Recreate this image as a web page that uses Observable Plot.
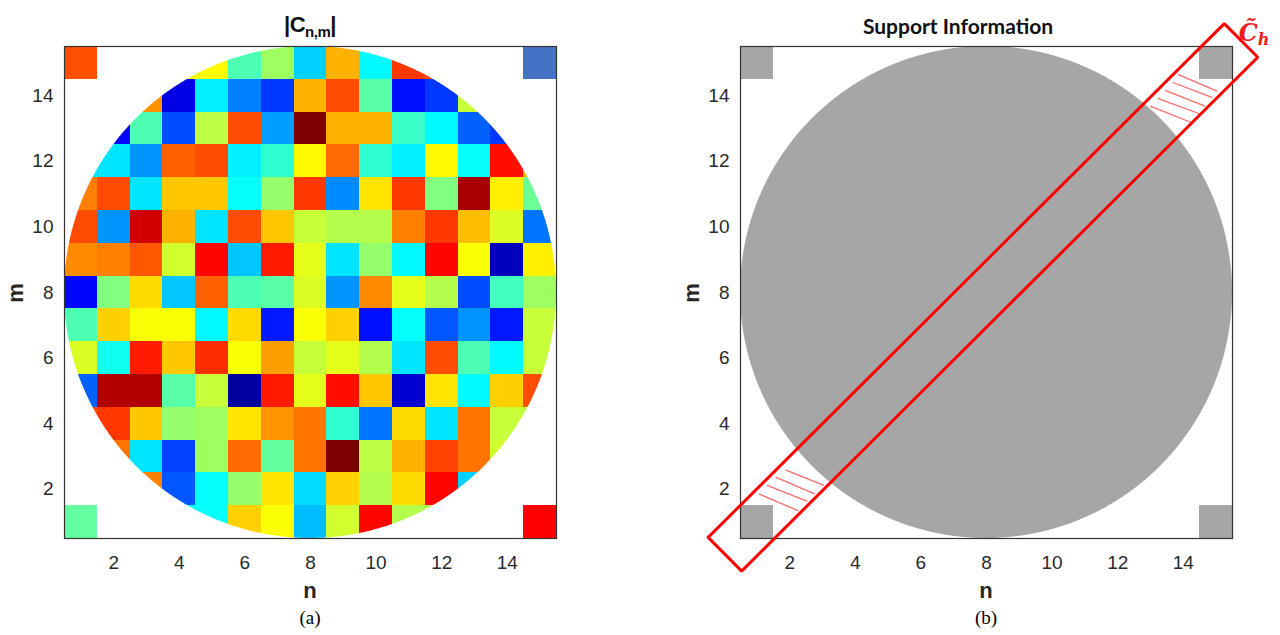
<!DOCTYPE html>
<html>
<head>
<meta charset="utf-8">
<script src="https://cdn.jsdelivr.net/npm/d3@7"></script>
<script src="https://cdn.jsdelivr.net/npm/@observablehq/plot@0.6"></script>
<style>
  html, body { margin: 0; padding: 0; background: #fff; }
  #wrap { position: relative; width: 1280px; height: 635px; overflow: hidden; background: #fff; }
  .plot { position: absolute; top: 0; }
  .plot svg text { font-family: "Liberation Sans", Arial, sans-serif !important; font-size: 19px !important; fill: #2a2a2a; }
  .lbl { position: absolute; transform: translate(-50%, -50%); white-space: nowrap; color: #111; }
  .axlab { font-family: "Liberation Sans", Arial, sans-serif; font-weight: bold; font-size: 22px; color: #262626; }
  .cap { font-family: "Liberation Serif", "Times New Roman", serif; font-size: 19px; color: #000; }
</style>
</head>
<body>
<div id="wrap">
  <div id="left" class="plot" style="left:0px"></div>
  <div id="right" class="plot" style="left:640px"></div>
  <div class="lbl" style="left:310px; top:26px; font-family:'Liberation Sans', Arial, sans-serif; font-weight:bold; font-size:22px; letter-spacing:-0.5px;">|C<sub style="font-size:15px; vertical-align:-5px;">n,m</sub>|</div>
  <div class="lbl" style="left:958px; top:25px; font-family:Lato, 'Open Sans', sans-serif; font-weight:bold; font-size:21px;">Support Information</div>
  <div class="lbl" style="left:1254px; top:33px; font-family:'DejaVu Serif', 'Liberation Serif', serif; font-style:italic; font-weight:bold; font-size:24px; color:#ee1c1c;">C&#771;<sub style="font-size:16px; vertical-align:-4px;">h</sub></div>
  <div class="lbl axlab" style="left:310px; top:591px;">n</div>
  <div class="lbl axlab" style="left:986px; top:591px;">n</div>
  <div class="lbl axlab" style="left:16px; top:293px; transform:translate(-50%,-50%) rotate(-90deg);">m</div>
  <div class="lbl axlab" style="left:692px; top:293px; transform:translate(-50%,-50%) rotate(-90deg);">m</div>
  <div class="lbl cap" style="left:310px; top:618px;">(a)</div>
  <div class="lbl cap" style="left:986px; top:618px;">(b)</div>
</div>
<script>
// ---------- data ----------
const axisTicks = [2, 4, 6, 8, 10, 12, 14];
const gridDomain = [0.5, 15.5];

// jet colormap stops
const jetStops = [0, 0.125, 0.375, 0.625, 0.875, 1];
const jetColors = ["#00007f", "#0000ff", "#00ffff", "#ffff00", "#ff0000", "#7f0000"];

// |C_n,m| magnitudes (rows m = 15 .. 1, columns n = 1 .. 15); null = outside the support
const magnitudeRows = [
  [null, null, null, 0.62, 0.63, 0.45, 0.53, 0.33, 0.70, 0.37, 0.82, 0.80, null, null, null],
  [null, null, 0.73, 0.10, 0.36, 0.25, 0.18, 0.70, 0.80, 0.46, 0.14, 0.18, 0.57, null, null],
  [null, 0.13, 0.45, 0.20, 0.56, 0.80, 0.28, 1.00, 0.70, 0.70, 0.43, 0.37, 0.22, 0.18, null],
  [0.35, 0.35, 0.27, 0.78, 0.80, 0.36, 0.42, 0.63, 0.77, 0.42, 0.36, 0.63, 0.38, 0.86, 0.70],
  [0.75, 0.80, 0.35, 0.68, 0.68, 0.38, 0.52, 0.82, 0.26, 0.65, 0.82, 0.50, 0.96, 0.64, 0.48],
  [0.80, 0.27, 0.92, 0.70, 0.35, 0.80, 0.68, 0.57, 0.55, 0.55, 0.75, 0.82, 0.69, 0.59, 0.24],
  [0.74, 0.75, 0.79, 0.58, 0.87, 0.32, 0.85, 0.60, 0.35, 0.52, 0.37, 0.87, 0.62, 0.06, 0.64],
  [0.13, 0.50, 0.66, 0.32, 0.78, 0.45, 0.46, 0.59, 0.27, 0.74, 0.60, 0.55, 0.20, 0.44, 0.53],
  [0.45, 0.67, 0.62, 0.62, 0.37, 0.66, 0.15, 0.62, 0.67, 0.14, 0.38, 0.21, 0.27, 0.15, 0.57],
  [0.59, 0.39, 0.85, 0.68, 0.83, 0.62, 0.72, 0.57, 0.60, 0.55, 0.35, 0.80, 0.45, 0.37, 0.57],
  [0.22, 0.95, 0.95, 0.46, 0.57, 0.03, 0.85, 0.60, 0.86, 0.68, 0.08, 0.65, 0.37, 0.67, 0.80],
  [0.80, 0.82, 0.68, 0.52, 0.53, 0.65, 0.73, 0.76, 0.42, 0.24, 0.66, 0.35, 0.76, 0.57, 0.55],
  [null, 0.76, 0.35, 0.19, 0.53, 0.77, 0.47, 0.76, 1.00, 0.56, 0.70, 0.81, 0.76, 0.58, null],
  [null, null, 0.75, 0.21, 0.38, 0.52, 0.65, 0.34, 0.67, 0.55, 0.66, 0.87, 0.33, null, null],
  [null, null, null, 0.38, 0.38, 0.67, 0.62, 0.31, 0.58, 0.87, 0.55, 0.55, null, null, null]
];

// corner cells (n, m, colour)
const cornerN = [1, 15, 1, 15];
const cornerM = [15, 15, 1, 1];
const cornerColorsA = ["#ff5000", "#4472c4", "#66ffa0", "#ff0000"];
const cornerColorB = "#a6a6a6";

// support disk
const diskCenter = [8, 8];
const diskRadius = 7.5;
const greyFill = "#a6a6a6";

// band C~_h: centre line end points and half width (data units)
const bandStart = [0.025, 0.02];
const bandEnd = [15.76, 15.685];
const bandHalfWidth = 0.724;

// hatch segments inside the band, outside the disk [x1, y1, x2, y2]
const hatchTopRight = [
  [13.83, 14.65, 15.03, 14.14],
  [13.67, 14.41, 14.89, 13.94],
  [13.45, 14.16, 14.66, 13.68],
  [13.22, 13.92, 14.49, 13.45],
  [12.99, 13.68, 14.23, 13.19]
];
const hatchBottomLeft = [
  [1.87, 2.59, 3.04, 2.12],
  [1.57, 2.37, 2.76, 1.86],
  [1.31, 2.12, 2.54, 1.63],
  [1.06, 1.86, 2.25, 1.35]
];

// ---------- derived tables ----------
const cells = [];
magnitudeRows.forEach((row, i) => row.forEach((v, j) => {
  if (v != null) cells.push({n: j + 1, m: magnitudeRows.length - i, v});
}));
const corners = cornerN.map((n, i) => ({n, m: cornerM[i], colorA: cornerColorsA[i]}));

const circleSamples = d3.range(0, 721).map(k => {
  const t = Math.PI - Math.PI * k / 720;
  const x = diskCenter[0] + diskRadius * Math.cos(t);
  const h = diskRadius * Math.sin(t);
  return {x, lo: diskCenter[1] - h, hi: diskCenter[1] + h};
});

const len = Math.hypot(bandEnd[0] - bandStart[0], bandEnd[1] - bandStart[1]);
const dir = [(bandEnd[0] - bandStart[0]) / len, (bandEnd[1] - bandStart[1]) / len];
const perp = [-dir[1], dir[0]];
const bandPoly = [
  [bandStart[0] + perp[0] * bandHalfWidth, bandStart[1] + perp[1] * bandHalfWidth],
  [bandEnd[0] + perp[0] * bandHalfWidth, bandEnd[1] + perp[1] * bandHalfWidth],
  [bandEnd[0] - perp[0] * bandHalfWidth, bandEnd[1] - perp[1] * bandHalfWidth],
  [bandStart[0] - perp[0] * bandHalfWidth, bandStart[1] - perp[1] * bandHalfWidth]
];
bandPoly.push(bandPoly[0]);
const hatches = hatchTopRight.concat(hatchBottomLeft);

const cellX1 = d => d.n - 0.5, cellX2 = d => d.n + 0.5;
const cellY1 = d => d.m - 0.5, cellY2 = d => d.m + 0.5;

const commonStyle = {
  fontFamily: "Liberation Sans, Arial, sans-serif",
  fontSize: "19px",
  color: "#2a2a2a",
  background: "transparent",
  overflow: "visible"
};

function axes() {
  return [
    Plot.axisX(axisTicks, {tickSize: 0, tickPadding: 17, label: null, fontSize: 19}),
    Plot.axisY(axisTicks, {tickSize: 0, tickPadding: 11, label: null, fontSize: 19})
  ];
}

// ---------- left panel ----------
const left = Plot.plot({
  width: 640, height: 600,
  marginLeft: 64, marginRight: 84, marginTop: 46, marginBottom: 62,
  x: {domain: gridDomain},
  y: {domain: gridDomain},
  color: {type: "linear", domain: jetStops, range: jetColors, interpolate: "rgb"},
  style: commonStyle,
  marks: [
    Plot.rect(cells, {x1: cellX1, x2: cellX2, y1: cellY1, y2: cellY2, fill: "v", shapeRendering: "crispEdges"}),
    Plot.areaY(circleSamples, {x: "x", y1: "hi", y2: gridDomain[1], fill: "white"}),
    Plot.areaY(circleSamples, {x: "x", y1: gridDomain[0], y2: "lo", fill: "white"}),
    ...corners.map(c => Plot.rect([c], {x1: cellX1, x2: cellX2, y1: cellY1, y2: cellY2, fill: c.colorA, shapeRendering: "crispEdges"})),
    Plot.frame({stroke: "#333", strokeWidth: 1.2}),
    ...axes()
  ]
});
document.getElementById("left").appendChild(left);

// ---------- right panel ----------
const right = Plot.plot({
  width: 640, height: 600,
  marginLeft: 100, marginRight: 48, marginTop: 46, marginBottom: 62,
  x: {domain: gridDomain},
  y: {domain: gridDomain},
  style: commonStyle,
  marks: [
    Plot.areaY(circleSamples, {x: "x", y1: "lo", y2: "hi", fill: greyFill}),
    Plot.rect(corners, {x1: cellX1, x2: cellX2, y1: cellY1, y2: cellY2, fill: cornerColorB, shapeRendering: "crispEdges"}),
    Plot.frame({stroke: "#333", strokeWidth: 1.2}),
    Plot.link(hatches, {x1: d => d[0], y1: d => d[1], x2: d => d[2], y2: d => d[3], stroke: "#ff6b6b", strokeWidth: 1.3}),
    Plot.line(bandPoly, {x: d => d[0], y: d => d[1], stroke: "#ff0000", strokeWidth: 3, strokeLinejoin: "miter", curve: "linear"}),
    ...axes()
  ]
});
document.getElementById("right").appendChild(right);
</script>
</body>
</html>
